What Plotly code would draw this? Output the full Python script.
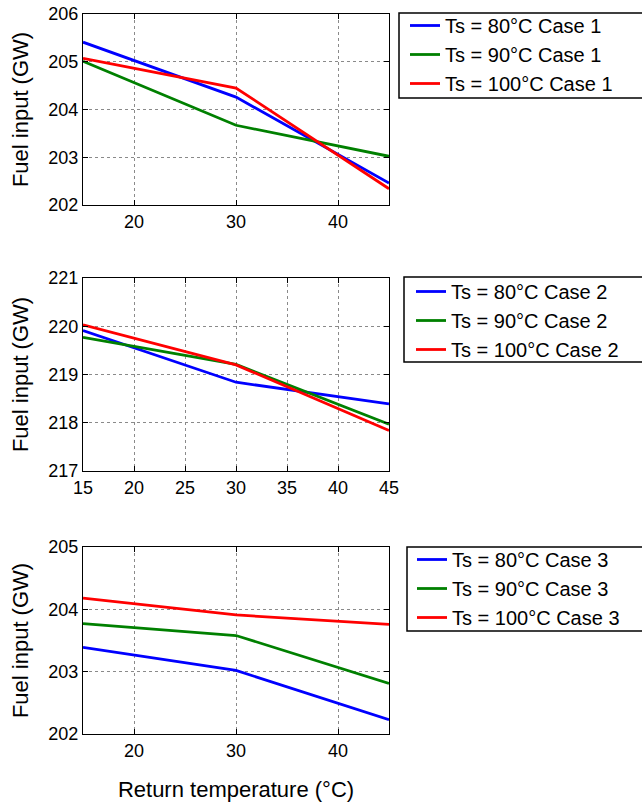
import plotly.graph_objects as go

x_temp = [15, 30, 45]

case1_80 = [205.41, 204.26, 202.46]
case1_90 = [205.01, 203.67, 203.02]
case1_100 = [205.07, 204.45, 202.34]

case2_80 = [219.91, 218.84, 218.39]
case2_90 = [219.77, 219.21, 217.97]
case2_100 = [220.03, 219.20, 217.84]

case3_80 = [203.39, 203.02, 202.23]
case3_90 = [203.77, 203.58, 202.81]
case3_100 = [204.18, 203.91, 203.76]

ts_labels = ["80", "90", "100"]
colors = ["#0000FF", "#008000", "#FF0000"]

W, H = 642, 804
FONT = "Liberation Sans, Arial, sans-serif"

fig = go.Figure()

cases = [
    (1, [case1_80, case1_90, case1_100]),
    (2, [case2_80, case2_90, case2_100]),
    (3, [case3_80, case3_90, case3_100]),
]

for ci, series in cases:
    for ts, vals, col in zip(ts_labels, series, colors):
        fig.add_trace(go.Scatter(
            x=x_temp, y=vals, mode="lines",
            line=dict(color=col, width=2.8),
            name=f"Ts = {ts}°C Case {ci}",
            xaxis="x" if ci == 1 else f"x{ci}",
            yaxis="y" if ci == 1 else f"y{ci}",
            legend="legend" if ci == 1 else f"legend{ci}",
        ))

xdom = [83 / W, 389 / W]
rows = [(14, 205), (278, 471), (547, 734)]
yranges = [[202, 206], [217, 221], [202, 205]]
xticks = [[20, 30, 40], [15, 20, 25, 30, 35, 40, 45], [20, 30, 40]]
legpos = [(405, 6), (411, 272), (412, 540)]
legbox = [(399, 13, 98), (404, 277, 362), (407, 547, 631)]

axis_common = dict(
    showline=True, linecolor="black", linewidth=1, mirror="ticks",
    ticks="inside", ticklen=5, tickcolor="black",
    showgrid=True, gridcolor="#8a8a8a", griddash="dot", gridwidth=1,
    zeroline=False,
    tickfont=dict(family=FONT, size=18, color="black"),
)

shapes = []
for i in range(3):
    top, bot = rows[i]
    sfx = "" if i == 0 else str(i + 1)
    xa = dict(axis_common)
    xa.update(domain=xdom, range=[15, 45], tickvals=xticks[i],
              anchor="y" + sfx, automargin=False)
    if i == 2:
        xa.update(title=dict(text="Return temperature (°C)",
                             font=dict(family=FONT, size=22, color="black"),
                             standoff=22))
    ya = dict(axis_common)
    ya.update(domain=[1 - bot / H, 1 - top / H], range=yranges[i], dtick=1,
              anchor="x" + sfx, automargin=False,
              title=dict(text="Fuel input (GW)",
                         font=dict(family=FONT, size=22, color="black"),
                         standoff=13))
    fig.layout["xaxis" + sfx] = xa
    fig.layout["yaxis" + sfx] = ya
    lx, ly = legpos[i]
    fig.layout["legend" + sfx] = dict(
        x=lx / W, y=1 - ly / H, xanchor="left", yanchor="top",
        borderwidth=0, bgcolor="rgba(0,0,0,0)",
        font=dict(family=FONT, size=20, color="black"),
        tracegroupgap=0,
    )
    bx, by0, by1 = legbox[i]
    shapes.append(dict(
        type="rect", xref="paper", yref="paper",
        x0=bx / W, x1=(W + 10) / W, y0=1 - by1 / H, y1=1 - by0 / H,
        line=dict(color="black", width=1.5), fillcolor="rgba(0,0,0,0)",
        layer="below",
    ))

fig.update_layout(
    width=W, height=H,
    margin=dict(l=0, r=0, t=0, b=0),
    plot_bgcolor="white", paper_bgcolor="white",
    showlegend=True,
    shapes=shapes,
)

fig.write_html("out.html")
